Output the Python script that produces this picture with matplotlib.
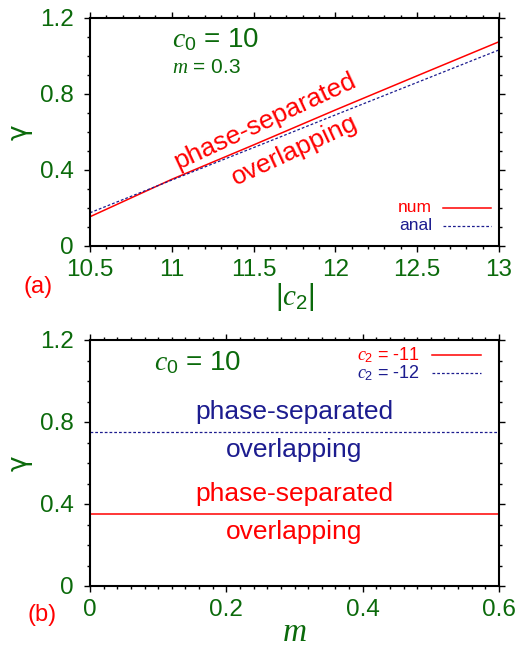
import matplotlib
matplotlib.use("Agg")
import matplotlib.pyplot as plt
from matplotlib.ticker import MultipleLocator, FuncFormatter

plt.rcParams['font.family'] = ['Liberation Sans', 'DejaVu Sans']
plt.rcParams['mathtext.fontset'] = 'custom'
plt.rcParams['mathtext.rm'] = 'Liberation Sans'
plt.rcParams['mathtext.it'] = 'Liberation Serif:italic'

GREEN = '#0b6a0b'
NAVY = '#1c1c8f'
RED = '#ff0000'

# panel (a): gamma vs |c2| at c0 = 10, m = 0.3
c2_abs = [10.5, 11.0, 11.5, 12.0, 12.5, 13.0]
gamma_num = [0.154, 0.351, 0.532, 0.716, 0.896, 1.075]
gamma_anal = [0.175, 0.347, 0.518, 0.690, 0.861, 1.032]

# panel (b): gamma vs m at c0 = 10
m_vals = [0.0, 0.1, 0.2, 0.3, 0.4, 0.5, 0.6]
gamma_c2_11 = [0.35, 0.35, 0.35, 0.35, 0.35, 0.35, 0.35]
gamma_c2_12 = [0.75, 0.75, 0.75, 0.75, 0.75, 0.75, 0.75]

DASH = (2.2, 1.6)
fmt = FuncFormatter(lambda v, p: f"{v:g}")


def style_axes(ax):
    for s in ax.spines.values():
        s.set_linewidth(1.5)
    ax.tick_params(which='both', direction='out', top=True, right=True,
                   colors='black', labelcolor=GREEN, labelsize=17.5, width=1)
    ax.tick_params(which='major', length=4.5, pad=5)
    ax.tick_params(axis='y', which='major', pad=7)
    ax.tick_params(which='minor', length=2.5)
    ax.xaxis.set_major_formatter(fmt)
    ax.yaxis.set_major_formatter(fmt)
    ax.set_ylabel("γ", color=GREEN, fontsize=19, family=['DejaVu Sans'])
    ax.yaxis.set_label_coords(-0.14, 0.5)


fig = plt.figure(figsize=(5.25, 6.5), dpi=100)

# ---- top panel
ax1 = fig.add_axes([90 / 525, 1 - 246 / 650, 409 / 525, 228 / 650])
ax1.plot(c2_abs, gamma_num, color=RED, lw=1.1)
ax1.plot(c2_abs, gamma_anal, color=NAVY, lw=0.9, dashes=DASH)
ax1.set_xlim(10.5, 13)
ax1.set_ylim(0, 1.2)
ax1.xaxis.set_major_locator(MultipleLocator(0.5))
ax1.xaxis.set_minor_locator(MultipleLocator(0.1))
ax1.yaxis.set_major_locator(MultipleLocator(0.4))
ax1.yaxis.set_minor_locator(MultipleLocator(0.1))
style_axes(ax1)
ax1.set_xlabel(r"$|c_2|$", color=GREEN, fontsize=21, labelpad=0)

ax1.text(11.0, 1.084, r"$c_0$ = 10", color=GREEN, fontsize=20, ha='left', va='center')
ax1.text(11.0, 0.937, r"$m$ = 0.3", color=GREEN, fontsize=15, ha='left', va='center')
ax1.text(11.57, 0.655, "phase-separated", color=RED, fontsize=19, rotation=25,
         ha='center', va='center', rotation_mode='anchor')
ax1.text(11.75, 0.503, "overlapping", color=RED, fontsize=19, rotation=25,
         ha='center', va='center', rotation_mode='anchor')

# legend (a)
ax1.text(12.59, 0.202, "num", color=RED, fontsize=12.5, ha='right', va='center')
ax1.plot([12.66, 12.95], [0.202, 0.202], color=RED, lw=1.1)
ax1.text(12.59, 0.107, "anal", color=NAVY, fontsize=12.5, ha='right', va='center')
ax1.plot([12.66, 12.95], [0.107, 0.107], color=NAVY, lw=0.9, dashes=DASH)

fig.text(38 / 525, 1 - 287 / 650, "(a)", color=RED, fontsize=17, ha='center', va='center')

# ---- bottom panel
ax2 = fig.add_axes([90 / 525, 1 - 586 / 650, 409 / 525, 246 / 650])
ax2.plot(m_vals, gamma_c2_11, color=RED, lw=1.1)
ax2.plot(m_vals, gamma_c2_12, color=NAVY, lw=0.9, dashes=DASH)
ax2.set_xlim(0, 0.6)
ax2.set_ylim(0, 1.2)
ax2.xaxis.set_major_locator(MultipleLocator(0.2))
ax2.xaxis.set_minor_locator(MultipleLocator(0.02))
ax2.yaxis.set_major_locator(MultipleLocator(0.4))
ax2.yaxis.set_minor_locator(MultipleLocator(0.1))
style_axes(ax2)
ax2.set_xlabel(r"$m$", color=GREEN, fontsize=24, labelpad=-3)

ax2.text(0.158, 1.09, r"$c_0$ = 10", color=GREEN, fontsize=20, ha='center', va='center')
ax2.text(0.3, 0.849, "phase-separated", color=NAVY, fontsize=19, ha='center', va='center')
ax2.text(0.3, 0.663, "overlapping", color=NAVY, fontsize=19, ha='center', va='center')
ax2.text(0.3, 0.449, "phase-separated", color=RED, fontsize=19, ha='center', va='center')
ax2.text(0.3, 0.263, "overlapping", color=RED, fontsize=19, ha='center', va='center')

# legend (b)
ax2.text(0.484, 1.127, r"$c_2$ = -11", color=RED, fontsize=13, ha='right', va='center')
ax2.plot([0.502, 0.574], [1.127, 1.127], color=RED, lw=1.1)
ax2.text(0.484, 1.039, r"$c_2$ = -12", color=NAVY, fontsize=13, ha='right', va='center')
ax2.plot([0.502, 0.574], [1.039, 1.039], color=NAVY, lw=0.9, dashes=DASH)

fig.text(42 / 525, 1 - 615 / 650, "(b)", color=RED, fontsize=17, ha='center', va='center')

fig.savefig("out.png", dpi=100)
